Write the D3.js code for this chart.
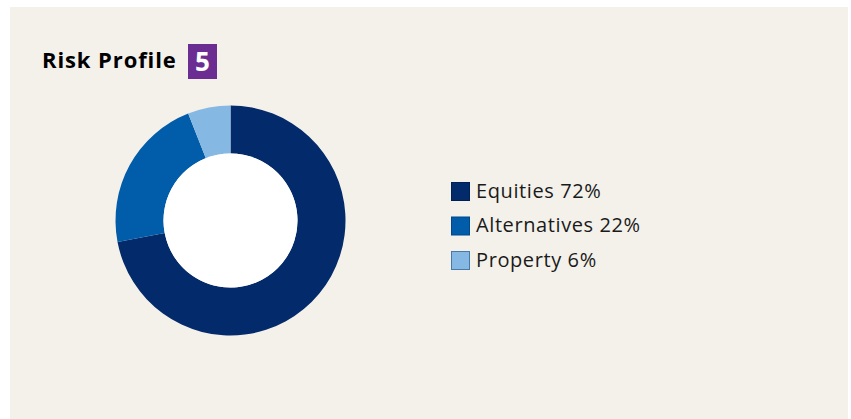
<!DOCTYPE html>
<html>
<head>
<meta charset="utf-8">
<script src="https://cdn.jsdelivr.net/npm/d3@7/dist/d3.min.js"></script>
<style>
html,body{margin:0;padding:0;background:#ffffff;}
svg{display:block;}
</style>
</head>
<body>
<svg id="chart" width="851" height="419"></svg>
<script>
const categories = ["Equities", "Alternatives", "Property"];
const values = [72, 22, 6];
const colors = ["#032a6a", "#015ca9", "#86b8e4"];
const strokeColors = ["#021f52", "#01488a", "#4a78a8"];

const svg = d3.select("#chart");
svg.append("rect").attr("x", 10).attr("y", 7).attr("width", 838).attr("height", 412).attr("fill", "#f4f1eb");

// Title
svg.append("text").attr("x", 42).attr("y", 68)
  .attr("font-family", "'Open Sans', 'DejaVu Sans', sans-serif")
  .attr("font-weight", "bold").attr("font-size", 22).attr("letter-spacing", 0.9).attr("fill", "#000")
  .text("Risk Profile");
svg.append("rect").attr("x", 188).attr("y", 44).attr("width", 29).attr("height", 35).attr("fill", "#6b2d91");
svg.append("text").attr("x", 202.5).attr("y", 71).attr("text-anchor", "middle")
  .attr("font-family", "'Open Sans', 'DejaVu Sans', sans-serif")
  .attr("font-weight", "bold").attr("font-size", 26).attr("fill", "#fff").text("5");

// Donut
const data = categories.map((c, i) => ({cat: c, value: values[i], color: colors[i]}));
const pie = d3.pie().value(d => d.value).sort(null);
const arc = d3.arc().innerRadius(67).outerRadius(115);
const g = svg.append("g").attr("transform", "translate(230.5,220.5)");
g.selectAll("path").data(pie(data)).join("path")
  .attr("d", arc).attr("fill", d => d.data.color);
g.append("circle").attr("r", 67).attr("fill", "#ffffff");

// Legend
const legend = svg.append("g").attr("transform", "translate(451,182)");
const items = legend.selectAll("g").data(data).join("g")
  .attr("transform", (d, i) => `translate(0,${i * 34.5})`);
items.append("rect").attr("x", 0.5).attr("y", 0.5).attr("width", 18).attr("height", 18)
  .attr("fill", d => d.color).attr("stroke", (d, i) => strokeColors[i]).attr("stroke-width", 1);
items.append("text").attr("x", 25).attr("y", 15.5)
  .attr("font-family", "'Open Sans', 'DejaVu Sans', sans-serif")
  .attr("font-size", 20).attr("letter-spacing", 0.6).attr("fill", "#1a1a1a")
  .text(d => `${d.cat} ${d.value}%`);
</script>
</body>
</html>
